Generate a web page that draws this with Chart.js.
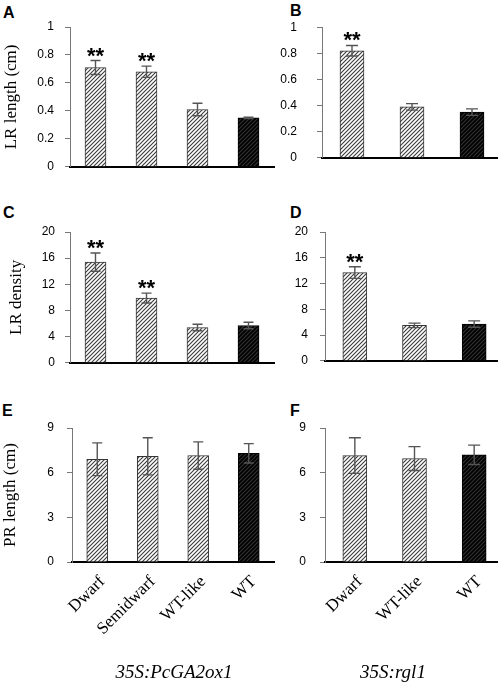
<!DOCTYPE html>
<html>
<head>
<meta charset="utf-8">
<script src="https://cdn.jsdelivr.net/npm/chart.js@4"></script>
<style>
  html, body { margin: 0; padding: 0; background: #fff; overflow: hidden; }
  body { width: 498px; height: 686px; position: relative; }
  canvas { position: absolute; }
  .letter { position: absolute; font: bold 16px "Liberation Sans", Arial, sans-serif; line-height: 1; }
  .group { position: absolute; font: italic 19px "Liberation Serif", serif; line-height: 1;
           transform: translateX(-50%); white-space: nowrap; }
</style>
</head>
<body>
<div class="letter" style="left:3px;top:5px">A</div>
<div class="letter" style="left:290px;top:3px">B</div>
<div class="letter" style="left:3px;top:205px">C</div>
<div class="letter" style="left:290px;top:205px">D</div>
<div class="letter" style="left:2px;top:403px">E</div>
<div class="letter" style="left:290px;top:403px">F</div>

<canvas id="chartA" style="left:0;top:0" width="280" height="185"></canvas>
<canvas id="chartB" style="left:250px;top:0" width="256" height="185"></canvas>
<canvas id="chartC" style="left:0;top:190px" width="280" height="190"></canvas>
<canvas id="chartD" style="left:250px;top:190px" width="256" height="190"></canvas>
<canvas id="chartE" style="left:0;top:380px" width="280" height="290"></canvas>
<canvas id="chartF" style="left:250px;top:380px" width="256" height="290"></canvas>

<div class="group" style="left:174px;top:662px">35S:PcGA2ox1</div>
<div class="group" style="left:393px;top:662px">35S:rgl1</div>

<script>
/* ================= DATA ================= */
const linesPc = ["Dwarf", "Semidwarf", "WT-like", "WT"];
const linesRgl = ["Dwarf", "WT-like", "WT"];

const lrLengthPc = [0.71, 0.68, 0.41, 0.35];
const lrLengthPcErr = [0.05, 0.04, 0.045, 0.005];
const lrLengthRgl = [0.82, 0.39, 0.35];
const lrLengthRglErr = [0.04, 0.025, 0.025];

const lrDensityPc = [15.4, 9.9, 5.4, 5.7];
const lrDensityPcErr = [1.4, 0.75, 0.5, 0.5];
const lrDensityRgl = [13.7, 5.5, 5.7];
const lrDensityRglErr = [0.9, 0.35, 0.5];

const prLengthPc = [6.9, 7.1, 7.15, 7.3];
const prLengthPcErr = [1.1, 1.25, 0.92, 0.65];
const prLengthRgl = [7.15, 6.95, 7.2];
const prLengthRglErr = [1.2, 0.8, 0.65];

const starsPc = [true, true, false, false];
const starsRgl = [true, false, false];
const noStarsPc = [false, false, false, false];
const noStarsRgl = [false, false, false];

/* ================= PATTERNS ================= */
function hatch(bg, fg) {
  const c = document.createElement("canvas");
  c.width = 4; c.height = 4;
  const g = c.getContext("2d");
  g.fillStyle = bg;
  g.fillRect(0, 0, 4, 4);
  g.strokeStyle = fg;
  g.lineWidth = 1.1;
  g.beginPath();
  g.moveTo(0, 4); g.lineTo(4, 0);
  g.moveTo(-1, 1); g.lineTo(1, -1);
  g.moveTo(3, 5); g.lineTo(5, 3);
  g.stroke();
  return g.createPattern(c, "repeat");
}

const grayHatch = hatch("#fff", "#3a3a3a");
const blackHatch = hatch("#000", "#333");

/* ================= ERROR BARS + STARS ================= */
const errorBarPlugin = {
  id: "errorBars",
  afterDatasetsDraw(chart) {
    const ctx = chart.ctx;
    const y = chart.scales.y;
    const ds = chart.data.datasets[0];
    const meta = chart.getDatasetMeta(0);
    meta.data.forEach((bar, i) => {
      const top = y.getPixelForValue(ds.data[i] + ds.errors[i]);
      const bot = y.getPixelForValue(ds.data[i] - ds.errors[i]);
      const cap = ds.capHalf;
      ctx.save();
      ctx.strokeStyle = "#555";
      ctx.lineWidth = 1.4;
      ctx.beginPath();
      ctx.moveTo(bar.x, top); ctx.lineTo(bar.x, bot);
      ctx.moveTo(bar.x - cap, top); ctx.lineTo(bar.x + cap, top);
      ctx.moveTo(bar.x - cap, bot); ctx.lineTo(bar.x + cap, bot);
      ctx.stroke();
      if (ds.stars[i]) {
        ctx.fillStyle = "#000";
        ctx.font = "bold 22px 'Liberation Sans', Arial, sans-serif";
        ctx.textAlign = "center";
        ctx.textBaseline = "alphabetic";
        ctx.fillText("**", bar.x, top + 2);
      }
      ctx.restore();
    });
  }
};

/* x labels at a fixed 45 degrees, placed from the category scale */
const slantLabelPlugin = {
  id: "slantLabels",
  afterDraw(chart) {
    const ds = chart.data.datasets[0];
    if (!ds.slant) return;
    const ctx = chart.ctx;
    const x = chart.scales.x;
    chart.data.labels.forEach((lab, i) => {
      ctx.save();
      ctx.translate(x.getPixelForTick(i) + 5, x.top + 17);
      ctx.rotate(-Math.PI / 4);
      ctx.fillStyle = "#000";
      ctx.font = "17px 'Liberation Serif', serif";
      ctx.textAlign = "right";
      ctx.textBaseline = "middle";
      ctx.fillText(lab, 0, 0);
      ctx.restore();
    });
  }
};

/* ================= PANELS ================= */
function makePanel(id, labels, values, errors, stars, cfg) {
  const canvas = document.getElementById(id);
  return new Chart(canvas, {
    type: "bar",
    data: {
      labels,
      datasets: [{
        data: values,
        errors,
        stars,
        slant: cfg.showX,
        capHalf: cfg.capHalf,
        backgroundColor: labels.map(l => l === "WT" ? blackHatch : grayHatch),
        borderColor: labels.map(l => l === "WT" ? "#000" : "#333"),
        borderWidth: 1,
        barThickness: cfg.barWidth
      }]
    },
    options: {
      responsive: false,
      animation: false,
      layout: { padding: { top: cfg.padTop, right: cfg.padRight, left: 0, bottom: 0 } },
      plugins: { legend: { display: false }, tooltip: { enabled: false } },
      scales: {
        x: {
          grid: { display: false, drawTicks: false },
          border: { color: "#000", width: 2 },
          ticks: { display: false },
          afterFit: s => { s.height = cfg.xHeight; }
        },
        y: {
          min: 0,
          max: cfg.max,
          ticks: {
            stepSize: cfg.step,
            padding: cfg.tickPad,
            color: "#000",
            font: { family: "'Liberation Sans', Arial, sans-serif", size: 12 },
            callback: v => String(Math.round(v * 10) / 10)
          },
          grid: { drawOnChartArea: false, tickLength: 5, color: "#777" },
          border: { color: "#777", width: 1 },
          title: {
            display: !!cfg.title,
            text: cfg.title || "",
            color: "#000",
            font: { family: "'Liberation Serif', serif", size: 17 },
            padding: { top: cfg.titlePad || 0, bottom: 0 }
          },
          afterFit: s => { s.width = cfg.yWidth; }
        }
      }
    },
    plugins: [errorBarPlugin, slantLabelPlugin]
  });
}

/* ================= INIT ================= */
makePanel("chartA", linesPc, lrLengthPc, lrLengthPcErr, starsPc, {
  padTop: 27, padRight: 6, yWidth: 70, xHeight: 12, max: 1, step: 0.2, tickPad: 11,
  title: "LR length (cm)", titlePad: 1, barWidth: 21, capHalf: 5, showX: false
});
makePanel("chartB", linesRgl, lrLengthRgl, lrLengthRglErr, starsRgl, {
  padTop: 27, padRight: 4, yWidth: 72, xHeight: 12, max: 1, step: 0.2, tickPad: 20,
  barWidth: 24, capHalf: 6, showX: false
});
makePanel("chartC", linesPc, lrDensityPc, lrDensityPcErr, starsPc, {
  padTop: 42, padRight: 6, yWidth: 70, xHeight: 8, max: 20, step: 4, tickPad: 10,
  title: "LR density", titlePad: 6, barWidth: 21, capHalf: 5, showX: false
});
makePanel("chartD", linesRgl, lrDensityRgl, lrDensityRglErr, starsRgl, {
  padTop: 42, padRight: 2, yWidth: 75, xHeight: 8, max: 20, step: 4, tickPad: 12,
  barWidth: 24, capHalf: 6, showX: false
});
makePanel("chartE", linesPc, prLengthPc, prLengthPcErr, noStarsPc, {
  padTop: 48, padRight: 6, yWidth: 72, xHeight: 108, max: 9, step: 3, tickPad: 13,
  title: "PR length (cm)", titlePad: 0, barWidth: 21, capHalf: 5, showX: true
});
makePanel("chartF", linesRgl, prLengthRgl, prLengthRglErr, noStarsRgl, {
  padTop: 48, padRight: 2, yWidth: 75, xHeight: 108, max: 9, step: 3, tickPad: 14,
  barWidth: 24, capHalf: 6, showX: true
});
</script>
</body>
</html>
